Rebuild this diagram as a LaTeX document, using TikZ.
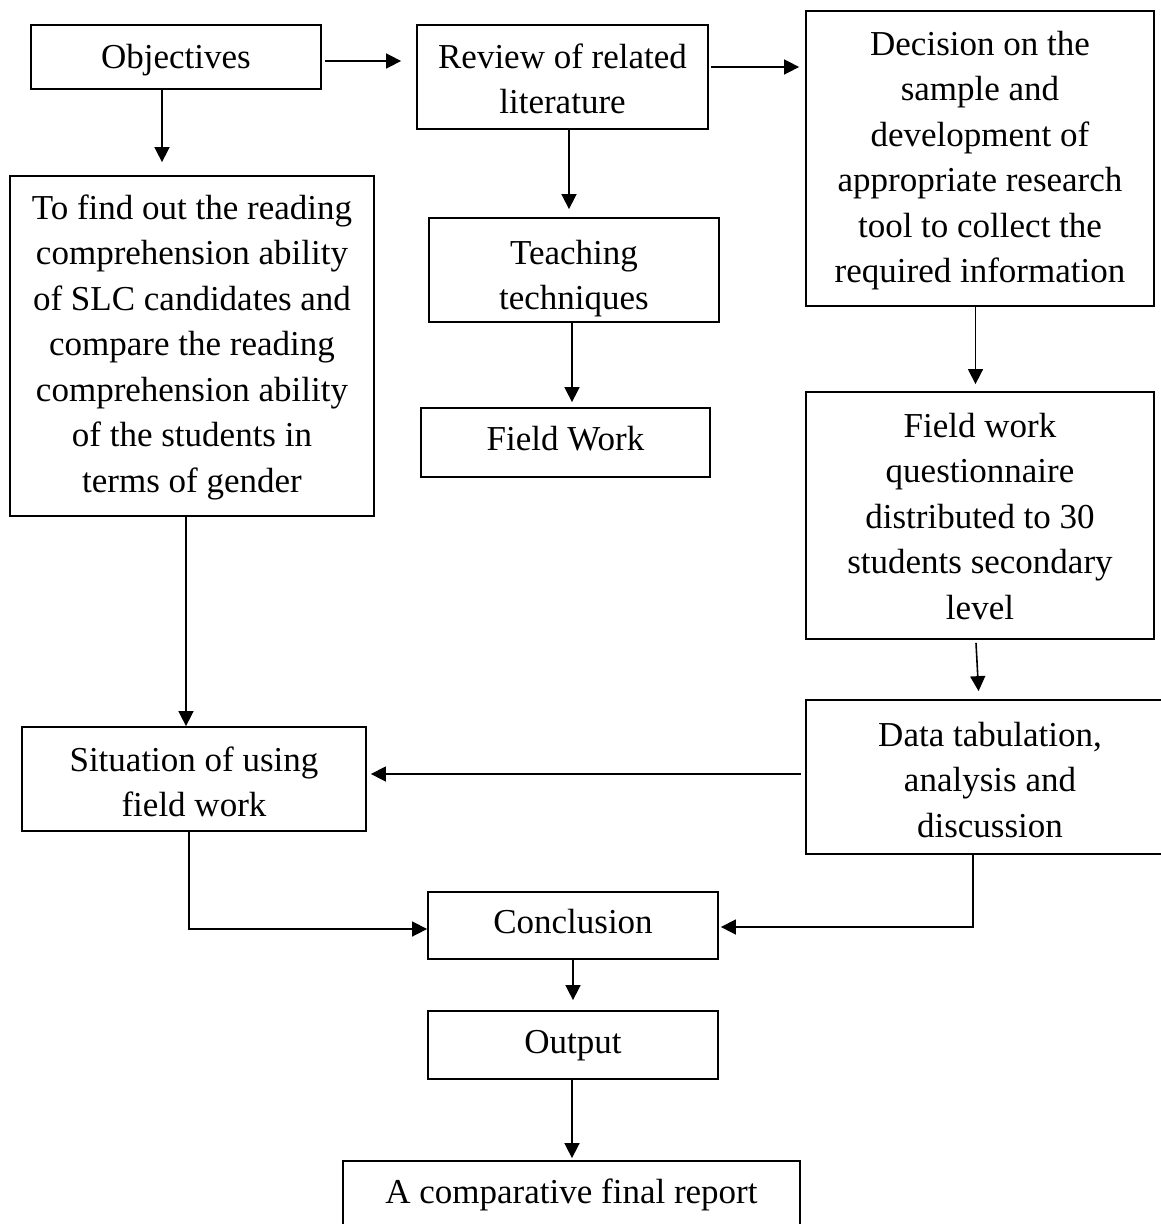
\documentclass[tikz,border=0pt]{standalone}
\usepackage{fontspec}
\setmainfont{Liberation Serif}
\usetikzlibrary{arrows.meta}

\begin{document}
\begin{tikzpicture}[x=1pt,y=-1pt,
	box/.style={draw,line width=1.8pt,inner sep=0pt,align=flush center,text height=43pt,font=\fontsize{35}{45.5}\selectfont},
	arr/.style={line width=1.6pt,-{Triangle[length=15pt,width=15pt]}}]
	\useasboundingbox (0,0) rectangle (1160,1224);
	% boxes
	\node[box,text width=290pt,text depth=21pt] (obj) at (176,57) {Objectives};
	\node[box,text width=291pt,text depth=61pt] (rev) at (562.5,77) {Review of related\\literature};
	\node[box,text width=348pt,text height=44pt,text depth=251pt] (dec) at (980,158.5) {Decision on the\\sample and\\development of\\appropriate research\\tool to collect the\\required information};
	\node[box,text width=364pt,text depth=297pt] (find) at (192,346) {To find out the reading\\comprehension ability\\of SLC candidates and\\compare the reading\\comprehension ability\\of the students in\\terms of gender};
	\node[box,text width=290pt,text height=46pt,text depth=58pt] (teach) at (574,270) {Teaching\\techniques};
	\node[box,text width=289pt,text height=42pt,text depth=27pt] (fw) at (565.5,442.5) {Field Work};
	\node[box,text width=348pt,text height=45pt,text depth=202pt] (fwq) at (980,515.5) {Field work\\questionnaire\\distributed to 30\\students secondary\\level};
	\node[box,text width=344pt,text height=44pt,text depth=60pt] (sit) at (194,779) {Situation of using\\field work};
	\node[box,text width=368pt,text height=46pt,text depth=108pt] (data) at (990,777) {Data tabulation,\\analysis and\\discussion};
	\node[box,text width=290pt,text height=41pt,text depth=26pt] (conc) at (573,925.5) {Conclusion};
	\node[box,text width=290pt,text height=42pt,text depth=26pt] (out) at (573,1045) {Output};
	\node[box,text width=457pt,text height=42pt,text depth=26pt] (rep) at (571.5,1195) {A comparative final report};
	% arrows
	\draw[arr,shorten <=3pt,shorten >=15pt] ([yshift=-4pt]obj.east) -- ([yshift=-4pt]obj.east -| rev.west);
	\draw[arr,shorten <=2pt,shorten >=6pt] ([yshift=10pt]rev.east) -- ([yshift=10pt]rev.east -| dec.west);
	\draw[arr,shorten >=13pt] ([xshift=-14pt]obj.south) -- ([xshift=-14pt]obj.south |- find.north);
	\draw[arr,shorten >=8pt] ([xshift=6.5pt]rev.south) -- ([xshift=6.5pt]rev.south |- teach.north);
	\draw[arr,shorten >=5pt] ([xshift=-2pt]teach.south) -- ([xshift=-2pt]teach.south |- fw.north);
	\draw[arr,shorten >=7pt] ([xshift=-4.5pt]dec.south) -- ([xshift=-4.5pt]dec.south |- fwq.north);
	\draw[arr,shorten >=8pt] ([xshift=-4pt,yshift=-3pt]fwq.south) -- ([xshift=-1pt]fwq.south |- data.north);
	\draw[arr] ([xshift=-6pt]find.south) -- ([xshift=-6pt]find.south |- sit.north);
	\draw[arr,shorten <=4pt,shorten >=4pt] ([yshift=3pt]data.west) -- ([yshift=3pt]data.west -| sit.east);
	\draw[arr] ([xshift=-5pt]sit.south) |- ([yshift=-3.5pt]conc.west);
	\draw[arr,shorten >=2pt] ([xshift=-17pt]data.south) |- ([yshift=-1.5pt]conc.east);
	\draw[arr,shorten >=10pt] (conc.south) -- (conc.south |- out.north);
	\draw[arr,shorten >=2pt] ([xshift=-1pt]out.south) -- ([xshift=-1pt]out.south |- rep.north);
\end{tikzpicture}
\end{document}
